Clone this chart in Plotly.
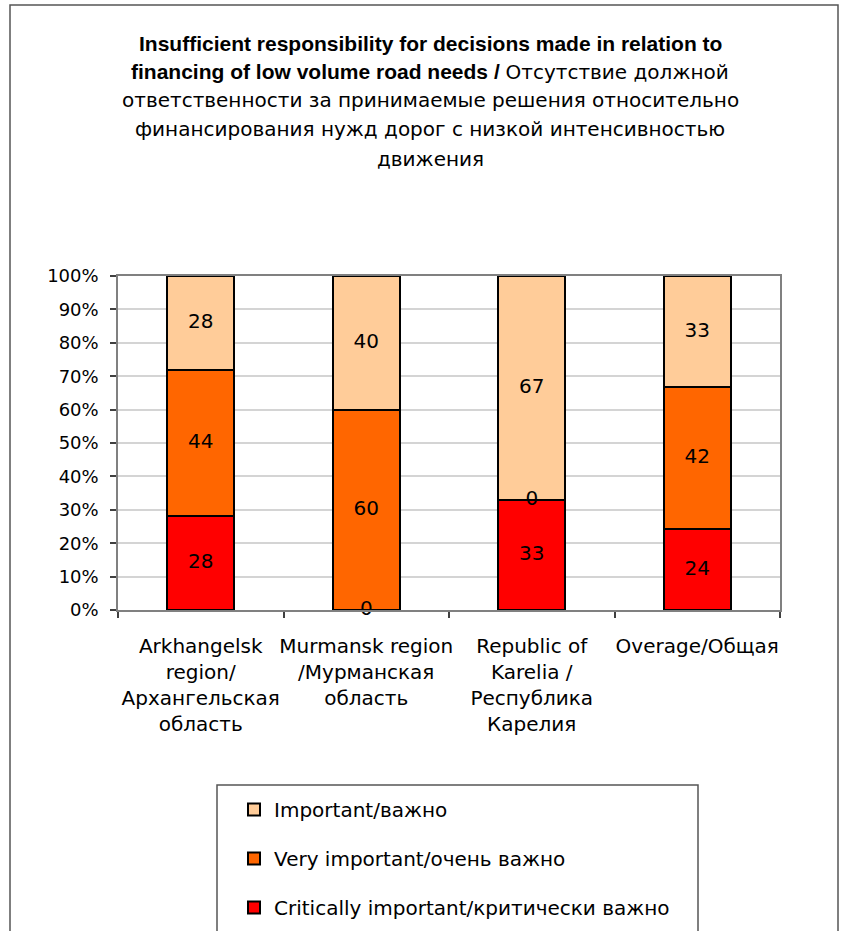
import plotly.graph_objects as go

# ---------------- data ----------------
category_keys = ["Arkhangelsk", "Murmansk", "Karelia", "Overage"]
tick_labels = [
    "Arkhangelsk<br>region/<br>Архангельская<br>область",
    "Murmansk region<br>/Мурманская<br>область",
    "Republic of<br>Karelia /<br>Республика<br>Карелия",
    "Overage/Общая",
]
series_names = [
    "Critically important/критически важно",
    "Very important/очень важно",
    "Important/важно",
]
critical = [28, 0, 33, 24]
very_important = [44, 60, 0, 42]
important = [28, 40, 67, 33]
series_values = [critical, very_important, important]
series_colors = ["#FF0000", "#FF6600", "#FFCC99"]
legend_ranks = [3, 2, 1]

CYR = "font-family:'DejaVu Sans';font-size:20px"
title_lines = [
    "<b>Insufficient responsibility for decisions made in relation to</b>",
    f"<b>financing of low volume road needs /</b> <span style=\"{CYR}\">Отсутствие должной</span>",
    f"<span style=\"{CYR}\">ответственности за принимаемые решения относительно</span>",
    f"<span style=\"{CYR}\">финансирования нужд дорог с низкой интенсивностью</span>",
    f"<span style=\"{CYR}\">движения</span>",
]

# ---------------- layout constants (pixels) ----------------
W, H = 841, 931
PL, PR, PT, PB = 118, 780, 276, 610  # plot area edges
pw, ph = PR - PL, PB - PT


def px_x(x):
    return (x - PL) / pw


def px_y(y):
    return (PB - y) / ph


FONT = "DejaVu Sans"

fig = go.Figure()

totals = [sum(v[k] for v in series_values) for k in range(len(category_keys))]
cum = [0] * len(category_keys)
label_traces = []
for name, vals, color, rank in zip(series_names, series_values, series_colors, legend_ranks):
    fig.add_trace(go.Bar(
        x=category_keys, y=vals, name=name, legendgroup=name, legendrank=rank,
        marker=dict(color=color, line=dict(color="#000000", width=2)),
        hoverinfo="skip",
    ))
    mids = [(cum[k] + vals[k] / 2) / totals[k] * 100 for k in range(len(vals))]
    cum = [cum[k] + vals[k] for k in range(len(vals))]
    label_traces.append(go.Scatter(
        x=category_keys, y=mids, mode="text", text=[str(v) for v in vals],
        textposition="middle center", cliponaxis=False,
        textfont=dict(family=FONT, size=20, color="#000000"),
        showlegend=False, hoverinfo="skip",
    ))
for t in label_traces:
    fig.add_trace(t)

annotations = []
title_y = [43, 72, 100, 129, 159]
for line, yy in zip(title_lines, title_y):
    annotations.append(dict(
        text=line, xref="paper", yref="paper", x=px_x(430), y=px_y(yy),
        xanchor="center", yanchor="middle", showarrow=False,
        font=dict(family="Liberation Sans", size=21, color="#000000"),
    ))

shapes = [
    # outer chart border
    dict(type="rect", xref="paper", yref="paper",
         x0=px_x(10), x1=px_x(838), y0=px_y(960), y1=px_y(5),
         line=dict(color="#555555", width=1.5), fillcolor="rgba(0,0,0,0)", layer="below"),
    # legend box
    dict(type="rect", xref="paper", yref="paper",
         x0=px_x(217), x1=px_x(698), y0=px_y(960), y1=px_y(785),
         line=dict(color="#555555", width=1.5), fillcolor="rgba(0,0,0,0)", layer="below"),
]

fig.update_layout(
    width=W, height=H,
    margin=dict(l=PL, r=W - PR, t=PT, b=H - PB, pad=0, autoexpand=False),
    paper_bgcolor="white", plot_bgcolor="white",
    barmode="stack", barnorm="percent", bargap=0.595,
    font=dict(family=FONT, size=18, color="#000000"),
    showlegend=True,
    legend=dict(
        x=px_x(234), y=px_y(790), xanchor="left", yanchor="top",
        traceorder="grouped", tracegroupgap=20,
        font=dict(family=FONT, size=20, color="#000000"),
        bgcolor="rgba(0,0,0,0)", borderwidth=0,
    ),
    annotations=annotations,
    shapes=shapes,
    xaxis=dict(
        type="category", tickmode="array", tickvals=category_keys, ticktext=tick_labels,
        tickangle=0, automargin=False,
        showgrid=False, showline=True, linecolor="#808080", linewidth=1.5, mirror=True,
        ticks="outside", tickson="boundaries", ticklen=6, tickcolor="#404040", tickwidth=1.5,
        tickfont=dict(family=FONT, size=20, color="#000000"),
        ticklabelstandoff=17,
    ),
    yaxis=dict(
        range=[0, 100], dtick=10, ticksuffix="%", automargin=False,
        showgrid=True, gridcolor="#D4D4D4", gridwidth=1.5,
        showline=True, linecolor="#808080", linewidth=1.5, mirror=True,
        ticks="outside", ticklen=6, tickcolor="#404040", tickwidth=1.5,
        tickfont=dict(family=FONT, size=18, color="#000000"),
        ticklabelstandoff=8,
        zeroline=False,
    ),
)

fig.write_html("out.html")
